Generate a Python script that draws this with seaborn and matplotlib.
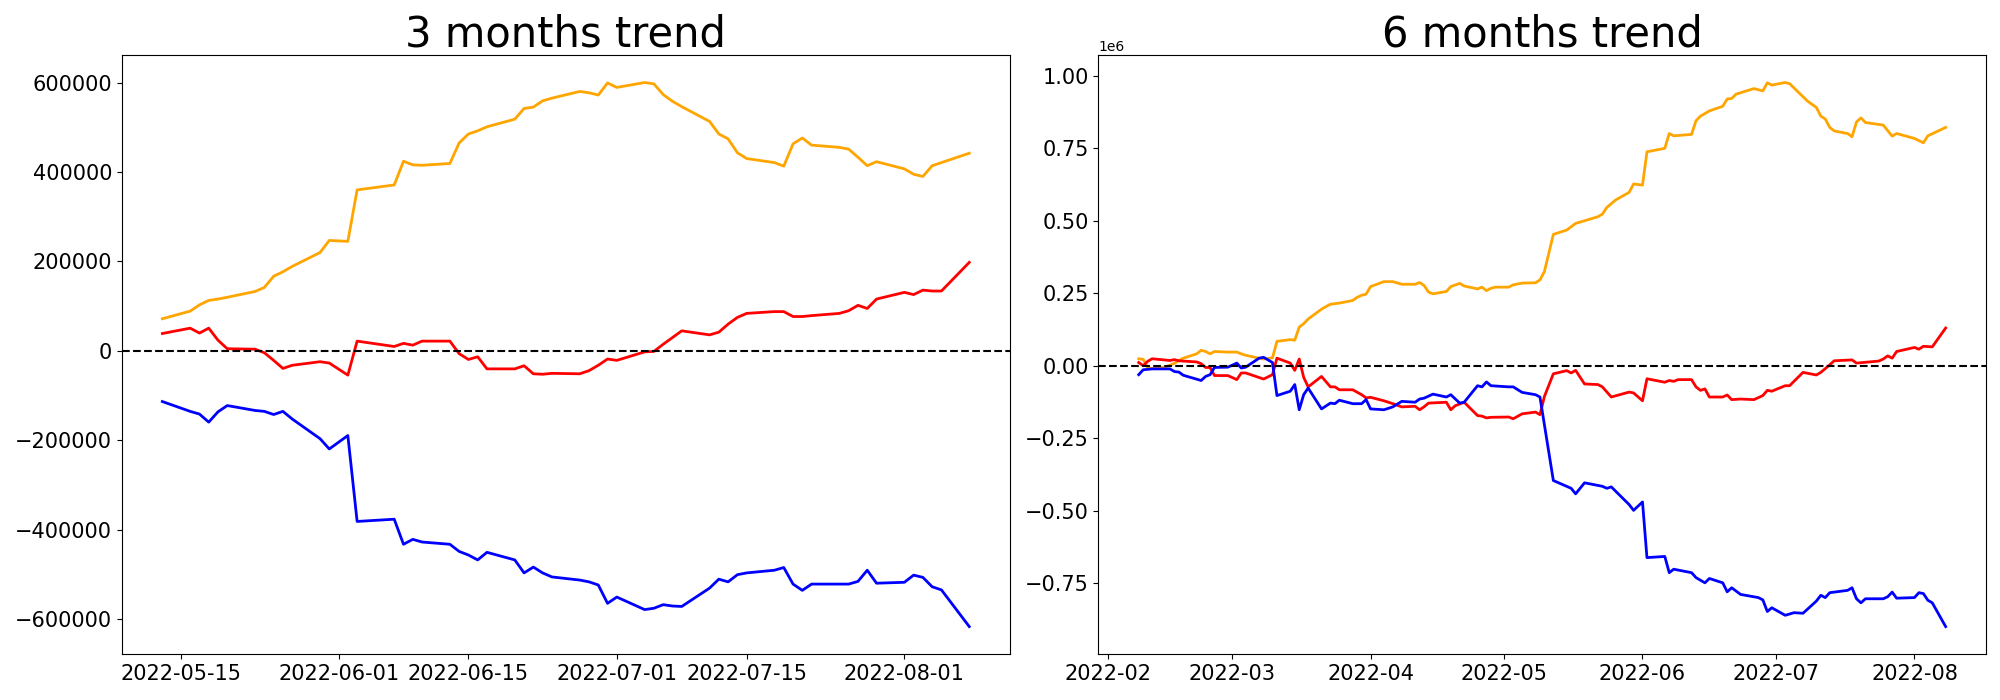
import pandas as pd
import matplotlib
matplotlib.use("Agg")
import matplotlib.pyplot as plt
import seaborn as sns

# ---- 3 months window: trading days, values in thousands ----
m3_dates = [
    "2022-05-13", "2022-05-16", "2022-05-17", "2022-05-18", "2022-05-19", "2022-05-20",
    "2022-05-23", "2022-05-24", "2022-05-25", "2022-05-26", "2022-05-27",
    "2022-05-30", "2022-05-31", "2022-06-02", "2022-06-03",
    "2022-06-07", "2022-06-08", "2022-06-09", "2022-06-10",
    "2022-06-13", "2022-06-14", "2022-06-15", "2022-06-16", "2022-06-17",
    "2022-06-20", "2022-06-21", "2022-06-22", "2022-06-23", "2022-06-24",
    "2022-06-27", "2022-06-28", "2022-06-29", "2022-06-30", "2022-07-01",
    "2022-07-04", "2022-07-05", "2022-07-06", "2022-07-07", "2022-07-08",
    "2022-07-11", "2022-07-12", "2022-07-13", "2022-07-14", "2022-07-15",
    "2022-07-18", "2022-07-19", "2022-07-20", "2022-07-21", "2022-07-22",
    "2022-07-25", "2022-07-26", "2022-07-27", "2022-07-28", "2022-07-29",
    "2022-08-01", "2022-08-02", "2022-08-03", "2022-08-04", "2022-08-05",
    "2022-08-08",
]
m3_orange = [72, 89, 103, 113, 116, 120, 133, 142, 167, 177, 189, 220, 247, 245, 360,
             371, 424, 416, 415, 419, 465, 485, 492, 501, 518, 542, 545, 559, 565,
             580, 577, 572, 599, 589, 600, 597, 573, 558, 546, 513, 485, 474, 443, 430,
             421, 413, 463, 476, 460, 455, 451, 433, 414, 423, 407, 395, 390, 414, 421,
             442]
m3_red = [39, 51, 40, 51, 24, 5, 4, -4, -21, -39, -32, -24, -27, -54, 22,
          10, 17, 13, 22, 22, -6, -19, -13, -40, -40, -33, -51, -52, -50,
          -51, -44, -32, -18, -21, -2, -1, 15, 30, 45, 36, 42, 60, 75, 84,
          88, 88, 77, 77, 79, 84, 90, 102, 95, 116, 131, 126, 136, 134, 134,
          198]
m3_blue = [-113, -135, -141, -159, -136, -122, -133, -135, -142, -135, -152, -196, -219, -189, -381,
           -376, -432, -421, -427, -432, -448, -456, -467, -450, -467, -496, -483, -496, -505,
           -512, -516, -523, -564, -550, -578, -575, -567, -570, -571, -530, -510, -516, -500, -496,
           -490, -484, -521, -535, -521, -521, -521, -515, -490, -519, -517, -501, -506, -527, -534,
           -616]

# ---- 6 months window: (date, value in thousands) ----
m6_orange = [
    ("2022-02-08", 24), ("2022-02-09", 22), ("2022-02-10", -6), ("2022-02-11", -10),
    ("2022-02-14", -4), ("2022-02-15", 2), ("2022-02-16", 8), ("2022-02-17", 18),
    ("2022-02-18", 26), ("2022-02-21", 41), ("2022-02-22", 53), ("2022-02-23", 49),
    ("2022-02-24", 41), ("2022-02-25", 49), ("2022-02-28", 47), ("2022-03-02", 47),
    ("2022-03-03", 41), ("2022-03-04", 36), ("2022-03-07", 26), ("2022-03-08", 23),
    ("2022-03-10", 27), ("2022-03-11", 84), ("2022-03-14", 90), ("2022-03-15", 88),
    ("2022-03-16", 133), ("2022-03-17", 145), ("2022-03-18", 161), ("2022-03-21", 195),
    ("2022-03-22", 204), ("2022-03-23", 212), ("2022-03-24", 214), ("2022-03-25", 216),
    ("2022-03-28", 225), ("2022-03-29", 236), ("2022-03-30", 243), ("2022-03-31", 247),
    ("2022-04-01", 273), ("2022-04-04", 290), ("2022-04-06", 290), ("2022-04-08", 281),
    ("2022-04-11", 281), ("2022-04-12", 287), ("2022-04-13", 277), ("2022-04-14", 254),
    ("2022-04-15", 248), ("2022-04-18", 256), ("2022-04-19", 273), ("2022-04-21", 284),
    ("2022-04-22", 275), ("2022-04-25", 265), ("2022-04-26", 271), ("2022-04-27", 259),
    ("2022-04-28", 267), ("2022-04-29", 271), ("2022-05-02", 271), ("2022-05-03", 279),
    ("2022-05-05", 285), ("2022-05-08", 286), ("2022-05-09", 296), ("2022-05-10", 325),
    ("2022-05-12", 453), ("2022-05-15", 468), ("2022-05-17", 491), ("2022-05-19", 500),
    ("2022-05-22", 514), ("2022-05-23", 523), ("2022-05-24", 546), ("2022-05-26", 572),
    ("2022-05-29", 598), ("2022-05-30", 627), ("2022-06-01", 623), ("2022-06-02", 738),
    ("2022-06-06", 750), ("2022-06-07", 801), ("2022-06-08", 793), ("2022-06-12", 798),
    ("2022-06-13", 845), ("2022-06-14", 861), ("2022-06-16", 879), ("2022-06-19", 895),
    ("2022-06-20", 920), ("2022-06-21", 922), ("2022-06-22", 937), ("2022-06-26", 956),
    ("2022-06-28", 948), ("2022-06-29", 976), ("2022-06-30", 968), ("2022-07-03", 977),
    ("2022-07-04", 973), ("2022-07-06", 943), ("2022-07-08", 913), ("2022-07-10", 891),
    ("2022-07-11", 861), ("2022-07-12", 851), ("2022-07-13", 822), ("2022-07-14", 810),
    ("2022-07-17", 801), ("2022-07-18", 790), ("2022-07-19", 841), ("2022-07-20", 855),
    ("2022-07-21", 839), ("2022-07-25", 830), ("2022-07-27", 792), ("2022-07-28", 801),
    ("2022-08-01", 784), ("2022-08-03", 769), ("2022-08-04", 793), ("2022-08-08", 822),
]
m6_red = [
    ("2022-02-08", 11), ("2022-02-09", 0), ("2022-02-10", 15), ("2022-02-11", 24),
    ("2022-02-15", 18), ("2022-02-16", 21), ("2022-02-17", 17), ("2022-02-21", 13),
    ("2022-02-22", 7), ("2022-02-23", -6), ("2022-02-24", -6), ("2022-02-25", -34),
    ("2022-02-28", -34), ("2022-03-02", -48), ("2022-03-03", -25), ("2022-03-04", -25),
    ("2022-03-08", -46), ("2022-03-10", -31), ("2022-03-11", 26), ("2022-03-14", 9),
    ("2022-03-15", -16), ("2022-03-16", 23), ("2022-03-17", -40), ("2022-03-18", -73),
    ("2022-03-21", -37), ("2022-03-23", -73), ("2022-03-24", -73), ("2022-03-25", -83),
    ("2022-03-28", -83), ("2022-03-30", -100), ("2022-03-31", -111), ("2022-04-01", -109),
    ("2022-04-04", -121), ("2022-04-06", -131), ("2022-04-08", -142), ("2022-04-11", -140),
    ("2022-04-12", -152), ("2022-04-13", -142), ("2022-04-14", -129), ("2022-04-18", -126),
    ("2022-04-19", -152), ("2022-04-20", -138), ("2022-04-22", -126), ("2022-04-25", -172),
    ("2022-04-26", -174), ("2022-04-27", -180), ("2022-04-28", -178), ("2022-05-02", -177),
    ("2022-05-03", -183), ("2022-05-05", -166), ("2022-05-08", -160), ("2022-05-09", -169),
    ("2022-05-10", -106), ("2022-05-12", -28), ("2022-05-15", -17), ("2022-05-16", -25),
    ("2022-05-17", -16), ("2022-05-19", -63), ("2022-05-22", -65), ("2022-05-23", -73),
    ("2022-05-25", -108), ("2022-05-29", -91), ("2022-05-30", -94), ("2022-06-01", -121),
    ("2022-06-02", -45), ("2022-06-06", -57), ("2022-06-07", -51), ("2022-06-08", -54),
    ("2022-06-09", -48), ("2022-06-12", -48), ("2022-06-13", -73), ("2022-06-14", -85),
    ("2022-06-15", -80), ("2022-06-16", -108), ("2022-06-19", -108), ("2022-06-20", -101),
    ("2022-06-21", -117), ("2022-06-23", -115), ("2022-06-26", -117), ("2022-06-28", -103),
    ("2022-06-29", -85), ("2022-06-30", -88), ("2022-07-03", -69), ("2022-07-04", -69),
    ("2022-07-07", -23), ("2022-07-10", -32), ("2022-07-11", -23), ("2022-07-13", 3),
    ("2022-07-14", 17), ("2022-07-18", 20), ("2022-07-19", 9), ("2022-07-24", 16),
    ("2022-07-25", 23), ("2022-07-26", 34), ("2022-07-27", 26), ("2022-07-28", 49),
    ("2022-08-01", 63), ("2022-08-02", 57), ("2022-08-03", 67), ("2022-08-05", 65),
    ("2022-08-08", 130),
]
m6_blue = [
    ("2022-02-08", -31), ("2022-02-09", -14), ("2022-02-11", -11), ("2022-02-15", -11),
    ("2022-02-16", -20), ("2022-02-17", -22), ("2022-02-18", -33), ("2022-02-22", -51),
    ("2022-02-23", -37), ("2022-02-24", -31), ("2022-02-25", -6), ("2022-02-28", -5),
    ("2022-03-02", 9), ("2022-03-03", -8), ("2022-03-04", -5), ("2022-03-07", 26),
    ("2022-03-08", 29), ("2022-03-10", 11), ("2022-03-11", -103), ("2022-03-14", -88),
    ("2022-03-15", -65), ("2022-03-16", -152), ("2022-03-17", -100), ("2022-03-18", -77),
    ("2022-03-21", -149), ("2022-03-23", -129), ("2022-03-24", -131), ("2022-03-25", -119),
    ("2022-03-28", -131), ("2022-03-30", -131), ("2022-03-31", -117), ("2022-04-01", -149),
    ("2022-04-04", -152), ("2022-04-06", -142), ("2022-04-08", -123), ("2022-04-11", -126),
    ("2022-04-12", -115), ("2022-04-13", -112), ("2022-04-15", -98), ("2022-04-18", -108),
    ("2022-04-19", -100), ("2022-04-21", -129), ("2022-04-22", -126), ("2022-04-25", -69),
    ("2022-04-26", -73), ("2022-04-27", -56), ("2022-04-28", -69), ("2022-05-02", -73),
    ("2022-05-03", -73), ("2022-05-05", -92), ("2022-05-08", -100), ("2022-05-09", -108),
    ("2022-05-12", -396), ("2022-05-16", -423), ("2022-05-17", -442), ("2022-05-19", -404),
    ("2022-05-22", -413), ("2022-05-23", -416), ("2022-05-24", -423), ("2022-05-25", -418),
    ("2022-05-29", -479), ("2022-05-30", -499), ("2022-06-01", -470), ("2022-06-02", -662),
    ("2022-06-06", -658), ("2022-06-07", -714), ("2022-06-08", -702), ("2022-06-12", -714),
    ("2022-06-13", -731), ("2022-06-15", -749), ("2022-06-16", -734), ("2022-06-19", -749),
    ("2022-06-20", -780), ("2022-06-21", -766), ("2022-06-23", -789), ("2022-06-27", -800),
    ("2022-06-28", -808), ("2022-06-29", -848), ("2022-06-30", -835), ("2022-07-03", -861),
    ("2022-07-05", -852), ("2022-07-07", -854), ("2022-07-10", -812), ("2022-07-11", -792),
    ("2022-07-12", -800), ("2022-07-13", -783), ("2022-07-17", -775), ("2022-07-18", -766),
    ("2022-07-19", -804), ("2022-07-20", -818), ("2022-07-21", -804), ("2022-07-25", -804),
    ("2022-07-26", -797), ("2022-07-27", -781), ("2022-07-28", -802), ("2022-08-01", -800),
    ("2022-08-02", -783), ("2022-08-03", -786), ("2022-08-04", -809), ("2022-08-05", -818),
    ("2022-08-08", -900),
]

line_colors = ["orange", "red", "blue"]


def to_frame(pairs):
    df = pd.DataFrame(pairs, columns=["date", "value"])
    df["date"] = pd.to_datetime(df["date"])
    df["value"] = df["value"] * 1000
    return df


fig, axes = plt.subplots(1, 2, figsize=(20, 7))

# 3 months
ax = axes[0]
d3 = pd.to_datetime(m3_dates)
for vals, c in zip([m3_orange, m3_red, m3_blue], line_colors):
    sns.lineplot(x=d3, y=[v * 1000 for v in vals], color=c, linewidth=2, ax=ax)
ax.axhline(0, color="black", linestyle="--", linewidth=1.5)
ax.set_title("3 months trend", fontsize=30)

# 6 months
ax = axes[1]
for pairs, c in zip([m6_orange, m6_red, m6_blue], line_colors):
    df = to_frame(pairs)
    sns.lineplot(data=df, x="date", y="value", color=c, linewidth=2, ax=ax)
ax.axhline(0, color="black", linestyle="--", linewidth=1.5)
ax.set_title("6 months trend", fontsize=30)

for ax in axes:
    ax.set_xlabel("")
    ax.set_ylabel("")
    ax.tick_params(labelsize=15)

plt.subplots_adjust(left=0.061, right=0.993, bottom=0.066, top=0.921, wspace=0.1)
plt.savefig("out.png", dpi=100)
